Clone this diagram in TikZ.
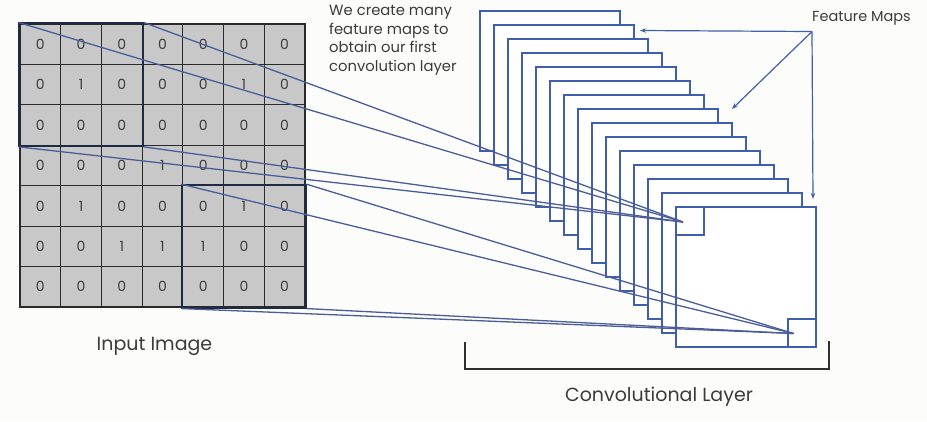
\documentclass[tikz,border=0pt]{standalone}
\usepackage{fontspec}
\setmainfont{Poppins}
\usetikzlibrary{arrows.meta,calc,fit}
\definecolor{mapblue}{HTML}{3F5EAE}
\definecolor{linkblue}{HTML}{4B5D99}
\definecolor{cellgray}{HTML}{C8C8C8}
\definecolor{gridline}{HTML}{2A2A2A}
\definecolor{kboxcol}{HTML}{1E2B45}
\definecolor{txtgray}{HTML}{3C3C3C}
\definecolor{bggray}{HTML}{FCFCFA}
\begin{document}
\begin{tikzpicture}[x=1pt,y=-1pt,
  cell/.style={draw=gridline,line width=1.1pt,fill=cellgray,minimum width=40.71pt,minimum height=40.43pt,inner sep=0pt,text=txtgray,font=\fontsize{14}{16}\selectfont},
  kbox/.style={draw=kboxcol,line width=2pt,inner sep=0pt},
  fmap/.style={draw=mapblue,line width=2pt,fill=white,minimum size=140pt,inner sep=0pt},
  smallsq/.style={draw=mapblue,line width=2pt,minimum size=28pt,inner sep=0pt},
  link/.style={draw=linkblue,line width=1.3pt},
  fmarrow/.style={draw=mapblue,line width=1.2pt,-{Stealth[length=6pt,width=4.5pt]}},
  lbl/.style={text=txtgray,inner sep=0pt},
  bracket/.style={draw=txtgray!80!black,line width=1.4pt}]
\useasboundingbox[fill=bggray] (0,0) rectangle (927,421);

% feature maps, back to front
\foreach \i in {0,...,14}{
  \node[fmap] (fm\i) at ({550+14*\i},{81+14*\i}) {};
}
\node[smallsq,anchor=north west] (s1) at (fm14.north west) {};
\node[smallsq,anchor=south east] (s2) at (fm14.south east) {};
\coordinate (t1) at ($(s1.center)+(-7,1)$);
\coordinate (t2) at ($(s2.center)+(-8.5,0.5)$);

% input grid
\foreach \row/\vals in {0/{0,0,0,0,0,0,0},1/{0,1,0,0,0,1,0},2/{0,0,0,0,0,0,0},3/{0,0,0,1,0,0,0},4/{0,1,0,0,0,1,0},5/{0,0,1,1,1,0,0},6/{0,0,0,0,0,0,0}}{
  \foreach \v [count=\col from 0] in \vals {
    \node[cell] (cell-\row-\col) at ({20+40.71*(\col+0.5)},{24+40.43*(\row+0.5)}) {\v};
  }
}
\node[kbox,fit=(cell-0-0)(cell-2-2)] (k1) {};
\node[kbox,fit=(cell-4-4)(cell-6-6)] (k2) {};

% connectors
\foreach \a in {north west,north east,south west,south east}{
  \draw[link] (k1.\a) -- (t1);
  \draw[link] (k2.\a) -- (t2);
}

% feature maps label and arrows
\node[lbl,anchor=west,font=\fontsize{14.5}{17}\selectfont] (fmlabel) at (812,18) {Feature Maps};
\coordinate (fmsrc) at (812,31.5);
\coordinate (fa1) at ($(fm1.north east)+(5,6.5)$);
\coordinate (fa2) at ($(fm8.north east)+(-1,-13)$);
\coordinate (fa3) at ($(fm14.north east)+(-4,-7)$);
\draw[fmarrow] (fmsrc) -- (fa1);
\draw[fmarrow] (fmsrc) -- (fa2);
\draw[fmarrow] (fmsrc) -- (fa3);

% texts
\node[lbl,anchor=north west,align=left,font=\fontsize{14.8}{18.5}\selectfont] (note) at (329,5) {We create many\\feature maps to\\obtain our first\\convolution layer};
\node[lbl,font=\fontsize{19}{22}\selectfont] (inlabel) at (154.5,346) {Input Image};
\node[lbl,font=\fontsize{19}{22}\selectfont] (cllabel) at (659,397) {Convolutional Layer};

% bracket
\draw[bracket] (465,342) -- (465,369) -- (829,369) -- (829,341);
\end{tikzpicture}
\end{document}
